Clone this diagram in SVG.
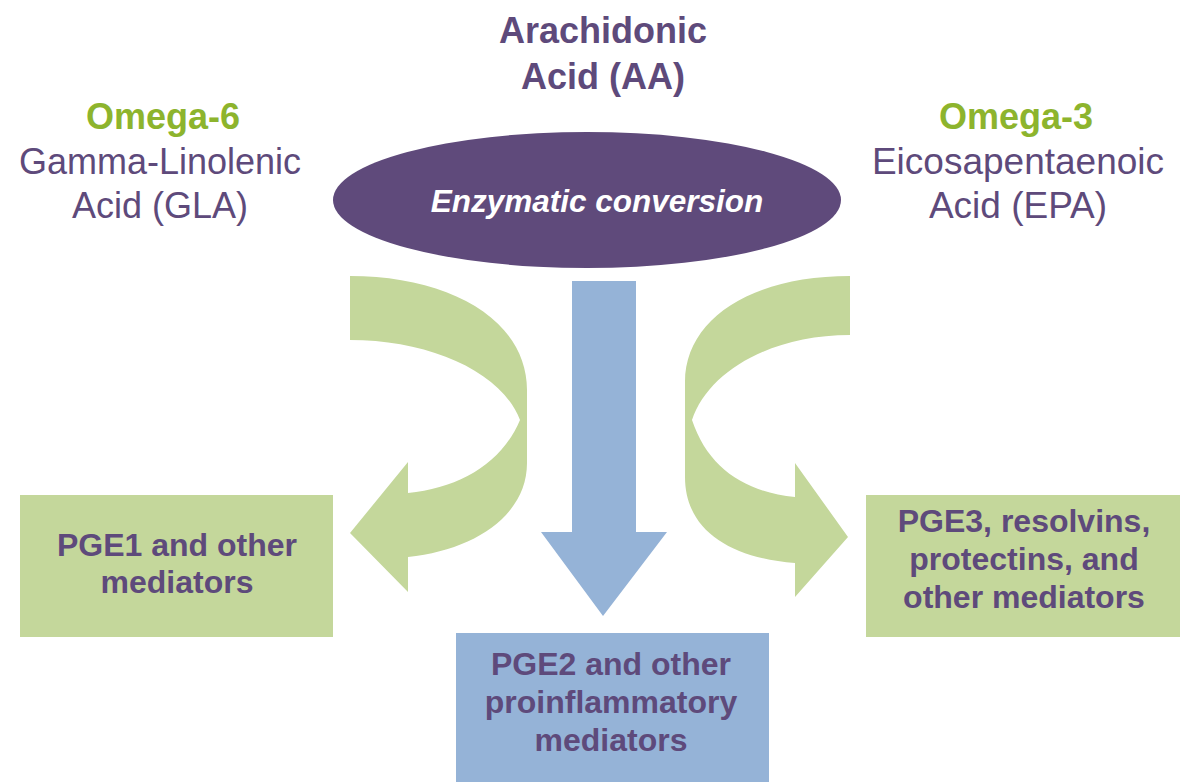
<svg xmlns="http://www.w3.org/2000/svg" width="1200" height="782" viewBox="0 0 1200 782">
<style>
.t{font-family:"Liberation Sans",Arial,sans-serif;text-anchor:middle}
.pb{fill:#5e4a7b;font-weight:bold}
.pr{fill:#5e4a7b}
.g{fill:#8db42d;font-weight:bold}
.green{fill:#c4d79b}
.blue{fill:#95b3d7}
</style>
<rect width="1200" height="782" fill="#ffffff"/>
<g id="aa-title">
<text class="t pb" x="603" y="43" font-size="36">Arachidonic</text>
<text class="t pb" x="603" y="89" font-size="36">Acid (AA)</text>
</g>
<g id="omega6">
<text class="t g" x="163" y="129" font-size="36">Omega-6</text>
<text class="t pr" x="160" y="174" font-size="36">Gamma-Linolenic</text>
<text class="t pr" x="160" y="218" font-size="36">Acid (GLA)</text>
</g>
<g id="omega3">
<text class="t g" x="1016" y="129" font-size="36">Omega-3</text>
<text class="t pr" x="1018" y="174" font-size="37">Eicosapentaenoic</text>
<text class="t pr" x="1018" y="218" font-size="37">Acid (EPA)</text>
</g>
<g id="enzymatic">
<ellipse cx="587" cy="200" rx="254" ry="68" fill="#5f4a7b"/>
<text class="t" x="597" y="212" font-size="31.5" font-weight="bold" font-style="italic" fill="#ffffff">Enzymatic conversion</text>
</g>
<g id="connectors">
<path class="green" d="M350,276 C450,276 527,320 527,390 L527,463 C527,515 475,550 408,557 L408,592 L350,533 L408,462 L408,493 C460,488 502,463 520,420 C502,372 430,340 350,340 Z"/>
<path class="green" d="M850,276 C750,276 685,320 685,382 L685,477 C685,530 730,558 795,563 L795,597 L848,537 L795,463 L795,497 C745,492 708,468 692,420 C708,372 770,335 850,335 Z"/>
<path class="blue" d="M572,281 L636,281 L636,532 L667,532 L603,616 L541,532 L572,532 Z"/>
</g>
<g id="pge1">
<rect class="green" x="20" y="495" width="313" height="142"/>
<text class="t pb" x="177" y="556" font-size="32">PGE1 and other</text>
<text class="t pb" x="177" y="593" font-size="32">mediators</text>
</g>
<g id="pge2">
<rect class="blue" x="456" y="633" width="313" height="149"/>
<text class="t pb" x="611" y="675" font-size="32">PGE2 and other</text>
<text class="t pb" x="611" y="713" font-size="32">proinflammatory</text>
<text class="t pb" x="611" y="751" font-size="32">mediators</text>
</g>
<g id="pge3">
<rect class="green" x="866" y="495" width="314" height="142"/>
<text class="t pb" x="1024" y="532" font-size="32">PGE3, resolvins,</text>
<text class="t pb" x="1024" y="570" font-size="32">protectins, and</text>
<text class="t pb" x="1024" y="608" font-size="32">other mediators</text>
</g>
</svg>
